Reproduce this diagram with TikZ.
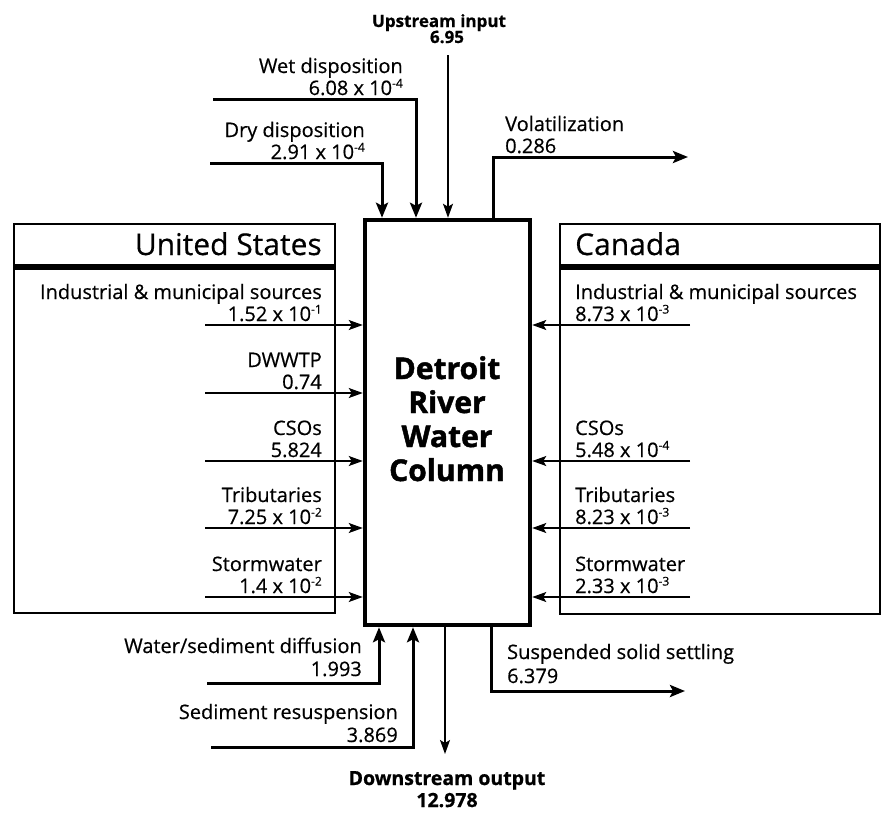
\documentclass[tikz,border=0pt]{standalone}
\usepackage{fontspec}
\setmainfont{Open Sans}[FakeBold=0.8]
\newfontfamily\heavyfont{Open Sans}[FakeBold=1.5]
\newfontfamily\medfont{Open Sans}[FakeBold=0.5]
\usetikzlibrary{arrows.meta}
\newcommand\ex[1]{\raisebox{7.5pt}{\fontsize{12}{12}\selectfont #1}}
\begin{document}
\begin{tikzpicture}[x=1pt,y=-1pt,
  lbl/.style={inner sep=0pt, font=\fontsize{20}{22}\selectfont\medfont},
  blbl/.style={inner sep=0pt, font=\fontsize{17}{20}\selectfont\bfseries},
  dlbl/.style={inner sep=0pt, font=\fontsize{19.5}{22}\selectfont\bfseries},
  ttl/.style={inner sep=0pt, font=\fontsize{30}{32}\selectfont\medfont},
  ctr/.style={inner sep=0pt, font=\fontsize{30}{32}\selectfont\heavyfont\bfseries},
  regionbox/.style={draw, line width=1.8pt, outer sep=0pt, inner sep=0pt},
  tharr/.style={line width=3pt, -{Stealth[length=15pt,width=12pt,inset=3pt]}},
  tnarr/.style={line width=1.4pt, -{Stealth[length=14pt,width=10pt,inset=3pt]}}]
\useasboundingbox (0,0) rectangle (883,814);

% central column
\node[draw, line width=4.5pt, minimum width=165pt, minimum height=405pt, inner sep=0pt] (col) at (447.5,422.5) {};
\node[ctr, anchor=base] (ct1) at (447,379) {Detroit};
\node[ctr, anchor=base] (ct2) at (447,413) {River};
\node[ctr, anchor=base] (ct3) at (447,447) {Water};
\node[ctr, anchor=base] (ct4) at (447,481) {Column};

% side boxes
\node[regionbox, minimum width=321pt, minimum height=389pt] (us) at (174.5,418.5) {};
\draw[line width=6pt] (us.west |- 0,267) -- (us.east |- 0,267);
\node[ttl, anchor=base east] (ust) at (322,255) {United States};
\node[regionbox, minimum width=320pt, minimum height=390pt] (ca) at (720,419) {};
\draw[line width=6pt] (ca.west |- 0,267) -- (ca.east |- 0,267);
\node[ttl, anchor=base west] (cat) at (575,255) {Canada};

% top inputs
\node[blbl, anchor=base] (up1) at (439,27) {Upstream input};
\node[blbl, anchor=base] (up2) at (447,43) {6.95};
\coordinate (upS) at (448,55);
\draw[tnarr] (upS) -- (upS |- col.north);

\node[lbl, anchor=base east] (wet1) at (403,73) {Wet disposition};
\node[lbl, anchor=base east] (wet2) at (403,95) {6.08 x 10\ex{-4}};
\coordinate (wetS) at (213,99);
\coordinate (wetC) at (416,99);
\draw[tharr] (wetS) -- (wetC) -- (wetC |- col.north);

\node[lbl, anchor=base east] (dry1) at (365,137) {Dry disposition};
\node[lbl, anchor=base east] (dry2) at (365,159) {2.91 x 10\ex{-4}};
\coordinate (dryS) at (210,163);
\coordinate (dryC) at (382,163);
\draw[tharr] (dryS) -- (dryC) -- (dryC |- col.north);

\node[lbl, anchor=base west] (vol1) at (505,131) {Volatilization};
\node[lbl, anchor=base west] (vol2) at (505,153) {0.286};
\coordinate (volC) at (493,157);
\coordinate (volE) at (688,157);
\draw[tharr] (volC |- col.north) -- (volC) -- (volE);

% United States inputs
\node[lbl, anchor=base east] (usa1) at (322,299) {Industrial \& municipal sources};
\node[lbl, anchor=base east] (usa2) at (322,321) {1.52 x 10\ex{-1}};
\coordinate (usA) at (205,325);
\draw[tnarr] (usA) -- (usA -| col.west);

\node[lbl, anchor=base east] (usb1) at (322,367) {DWWTP};
\node[lbl, anchor=base east] (usb2) at (322,389) {0.74};
\coordinate (usB) at (205,393);
\draw[tnarr] (usB) -- (usB -| col.west);

\node[lbl, anchor=base east] (usc1) at (322,435) {CSOs};
\node[lbl, anchor=base east] (usc2) at (322,457) {5.824};
\coordinate (usC) at (205,461);
\draw[tnarr] (usC) -- (usC -| col.west);

\node[lbl, anchor=base east] (usd1) at (322,502) {Tributaries};
\node[lbl, anchor=base east] (usd2) at (322,524) {7.25 x 10\ex{-2}};
\coordinate (usD) at (205,528);
\draw[tnarr] (usD) -- (usD -| col.west);

\node[lbl, anchor=base east] (use1) at (322,571) {Stormwater};
\node[lbl, anchor=base east] (use2) at (322,593) {1.4 x 10\ex{-2}};
\coordinate (usE) at (205,597);
\draw[tnarr] (usE) -- (usE -| col.west);

% Canada inputs
\node[lbl, anchor=base west] (caa1) at (575,299) {Industrial \& municipal sources};
\node[lbl, anchor=base west] (caa2) at (575,321) {8.73 x 10\ex{-3}};
\coordinate (caA) at (690,325);
\draw[tnarr] (caA) -- (caA -| col.east);

\node[lbl, anchor=base west] (cac1) at (575,435) {CSOs};
\node[lbl, anchor=base west] (cac2) at (575,457) {5.48 x 10\ex{-4}};
\coordinate (caC) at (690,461);
\draw[tnarr] (caC) -- (caC -| col.east);

\node[lbl, anchor=base west] (cad1) at (575,502) {Tributaries};
\node[lbl, anchor=base west] (cad2) at (575,524) {8.23 x 10\ex{-3}};
\coordinate (caD) at (690,528);
\draw[tnarr] (caD) -- (caD -| col.east);

\node[lbl, anchor=base west] (cae1) at (575,571) {Stormwater};
\node[lbl, anchor=base west] (cae2) at (575,593) {2.33 x 10\ex{-3}};
\coordinate (caE) at (690,597);
\draw[tnarr] (caE) -- (caE -| col.east);

% bottom
\node[lbl, anchor=base east] (wat1) at (362,653) {Water/sediment diffusion};
\node[lbl, anchor=base east] (wat2) at (362,676) {1.993};
\coordinate (watS) at (207,683);
\coordinate (watC) at (379,683);
\draw[tharr] (watS) -- (watC) -- (watC |- col.south);

\node[lbl, anchor=base east] (sed1) at (398,719) {Sediment resuspension};
\node[lbl, anchor=base east] (sed2) at (398,742) {3.869};
\coordinate (sedS) at (211,747);
\coordinate (sedC) at (413,747);
\draw[tharr] (sedS) -- (sedC) -- (sedC |- col.south);

\node[lbl, anchor=base west] (sus1) at (507,659) {Suspended solid settling};
\node[lbl, anchor=base west] (sus2) at (507,683) {6.379};
\coordinate (susC) at (491,691);
\coordinate (susE) at (685,691);
\draw[tharr] (susC |- col.south) -- (susC) -- (susE);

\coordinate (dnE) at (445,754);
\draw[tnarr] (dnE |- col.south) -- (dnE);
\node[dlbl, anchor=base] (dn1) at (447,785) {Downstream output};
\node[dlbl, anchor=base] (dn2) at (447,807) {12.978};
\end{tikzpicture}
\end{document}
